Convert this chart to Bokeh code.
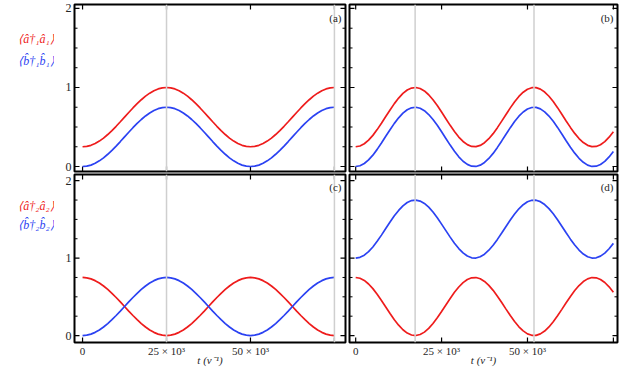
import math
from bokeh.plotting import figure
from bokeh.models import Range1d, FixedTicker, Label, Span
from bokeh.layouts import column, row
from bokeh.embed import file_html
from bokeh.resources import INLINE

# ---------------- data ----------------
t = list(range(0, 76250, 1250))

a_red = [0.250, 0.255, 0.268, 0.291, 0.322, 0.360, 0.405, 0.455, 0.509, 0.566, 0.625,
         0.684, 0.741, 0.795, 0.845, 0.890, 0.928, 0.959, 0.982, 0.995, 1.000,
         0.995, 0.982, 0.959, 0.928, 0.890, 0.845, 0.795, 0.741, 0.684, 0.625,
         0.566, 0.509, 0.455, 0.405, 0.360, 0.322, 0.291, 0.268, 0.255, 0.250,
         0.255, 0.268, 0.291, 0.322, 0.360, 0.405, 0.455, 0.509, 0.566, 0.625,
         0.684, 0.741, 0.795, 0.845, 0.890, 0.928, 0.959, 0.982, 0.995, 1.000]
a_blue = [0.000, 0.005, 0.018, 0.041, 0.072, 0.110, 0.155, 0.205, 0.259, 0.316, 0.375,
          0.434, 0.491, 0.545, 0.595, 0.640, 0.678, 0.709, 0.732, 0.745, 0.750,
          0.745, 0.732, 0.709, 0.678, 0.640, 0.595, 0.545, 0.491, 0.434, 0.375,
          0.316, 0.259, 0.205, 0.155, 0.110, 0.072, 0.041, 0.018, 0.005, 0.000,
          0.005, 0.018, 0.041, 0.072, 0.110, 0.155, 0.205, 0.259, 0.316, 0.375,
          0.434, 0.491, 0.545, 0.595, 0.640, 0.678, 0.709, 0.732, 0.745, 0.750]

b_red = [0.250, 0.260, 0.288, 0.334, 0.394, 0.467, 0.547, 0.632, 0.716, 0.796,
         0.866, 0.925, 0.968, 0.993, 1.000, 0.987, 0.956, 0.908, 0.845, 0.771,
         0.689, 0.605, 0.521, 0.442, 0.373, 0.317, 0.277, 0.254, 0.251, 0.267,
         0.301, 0.352, 0.416, 0.492, 0.574, 0.659, 0.742, 0.819, 0.887, 0.940,
         0.978, 0.997, 0.998, 0.979, 0.942, 0.889, 0.822, 0.745, 0.662, 0.577,
         0.495, 0.419, 0.354, 0.303, 0.268, 0.251, 0.254, 0.276, 0.315, 0.371,
         0.440]
b_blue = [0.000, 0.010, 0.038, 0.084, 0.144, 0.217, 0.297, 0.382, 0.466, 0.546,
          0.616, 0.675, 0.718, 0.743, 0.750, 0.737, 0.706, 0.658, 0.595, 0.521,
          0.439, 0.355, 0.271, 0.192, 0.123, 0.067, 0.027, 0.004, 0.001, 0.017,
          0.051, 0.102, 0.166, 0.242, 0.324, 0.409, 0.492, 0.569, 0.637, 0.690,
          0.728, 0.747, 0.748, 0.729, 0.692, 0.639, 0.572, 0.495, 0.412, 0.327,
          0.245, 0.169, 0.104, 0.053, 0.018, 0.001, 0.004, 0.026, 0.065, 0.121,
          0.190]

c_red = [0.750, 0.745, 0.732, 0.709, 0.678, 0.640, 0.595, 0.545, 0.491, 0.434, 0.375,
         0.316, 0.259, 0.205, 0.155, 0.110, 0.072, 0.041, 0.018, 0.005, 0.000,
         0.005, 0.018, 0.041, 0.072, 0.110, 0.155, 0.205, 0.259, 0.316, 0.375,
         0.434, 0.491, 0.545, 0.595, 0.640, 0.678, 0.709, 0.732, 0.745, 0.750,
         0.745, 0.732, 0.709, 0.678, 0.640, 0.595, 0.545, 0.491, 0.434, 0.375,
         0.316, 0.259, 0.205, 0.155, 0.110, 0.072, 0.041, 0.018, 0.005, 0.000]
c_blue = [0.000, 0.005, 0.018, 0.041, 0.072, 0.110, 0.155, 0.205, 0.259, 0.316, 0.375,
          0.434, 0.491, 0.545, 0.595, 0.640, 0.678, 0.709, 0.732, 0.745, 0.750,
          0.745, 0.732, 0.709, 0.678, 0.640, 0.595, 0.545, 0.491, 0.434, 0.375,
          0.316, 0.259, 0.205, 0.155, 0.110, 0.072, 0.041, 0.018, 0.005, 0.000,
          0.005, 0.018, 0.041, 0.072, 0.110, 0.155, 0.205, 0.259, 0.316, 0.375,
          0.434, 0.491, 0.545, 0.595, 0.640, 0.678, 0.709, 0.732, 0.745, 0.750]

d_red = [0.750, 0.740, 0.712, 0.666, 0.606, 0.533, 0.453, 0.368, 0.284, 0.204,
         0.134, 0.075, 0.032, 0.007, 0.000, 0.013, 0.044, 0.092, 0.155, 0.229,
         0.311, 0.395, 0.479, 0.558, 0.627, 0.683, 0.723, 0.746, 0.749, 0.733,
         0.699, 0.648, 0.584, 0.508, 0.426, 0.341, 0.258, 0.181, 0.113, 0.060,
         0.022, 0.003, 0.002, 0.021, 0.058, 0.111, 0.178, 0.255, 0.338, 0.423,
         0.505, 0.581, 0.646, 0.697, 0.732, 0.749, 0.746, 0.724, 0.685, 0.629,
         0.560]
d_blue = [1.000, 1.010, 1.038, 1.084, 1.144, 1.217, 1.297, 1.382, 1.466, 1.546,
          1.616, 1.675, 1.718, 1.743, 1.750, 1.737, 1.706, 1.658, 1.595, 1.521,
          1.439, 1.355, 1.271, 1.192, 1.123, 1.067, 1.027, 1.004, 1.001, 1.017,
          1.051, 1.102, 1.166, 1.242, 1.324, 1.409, 1.492, 1.569, 1.637, 1.690,
          1.728, 1.747, 1.748, 1.729, 1.692, 1.639, 1.572, 1.495, 1.412, 1.327,
          1.245, 1.169, 1.104, 1.053, 1.018, 1.001, 1.004, 1.026, 1.065, 1.121,
          1.190]

markers_ac = [25000, 75000]
markers_bd = [17300, 51900]

x_ticks = [0, 25000, 50000, 75000]
x_tick_labels = {0: "0", 25000: "25 × 10³", 50000: "50 × 10³", 75000: ""}
x_labeled = [0, 25000, 50000]
y_ticks = [0, 1, 2]
y_minor = [0.25, 0.5, 0.75, 1.25, 1.5, 1.75]

panel_names = ["(a)", "(b)", "(c)", "(d)"]
legend_top = ["⟨â†₁â₁⟩", "⟨b̂†₁b̂₁⟩"]
legend_bottom = ["⟨â†₂â₂⟩", "⟨b̂†₂b̂₂⟩"]
x_label = "t (ν⁻¹)"

RED = "#ee1c1c"
BLUE = "#2b42f2"
FONT = "Liberation Serif"
TXT = "#262626"


def label_axis(ax, ticks, size, overrides=None):
    ax.ticker = FixedTicker(ticks=ticks, minor_ticks=[])
    ax.axis_line_color = None
    ax.major_tick_in = 0
    ax.major_tick_out = 0
    ax.minor_tick_in = 0
    ax.minor_tick_out = 0
    ax.major_label_text_font = FONT
    ax.major_label_text_color = TXT
    ax.major_label_text_font_size = size
    ax.major_label_standoff = 3
    if overrides:
        ax.major_label_overrides = overrides


def make_panel(width, height, xr, yr, borders, show_x, show_y):
    bl, br, bt, bb = borders
    p = figure(width=width, height=height, x_range=Range1d(*xr), y_range=Range1d(*yr),
               output_backend="svg", toolbar_location=None,
               x_axis_location="below" if show_x else None,
               y_axis_location="left" if show_y else None,
               min_border_left=bl, min_border_right=br,
               min_border_top=bt, min_border_bottom=bb)
    p.xgrid.visible = False
    p.ygrid.visible = False
    p.outline_line_color = "black"
    p.outline_line_width = 2
    p.background_fill_color = "white"
    p.border_fill_color = "white"
    if show_x:
        ax = p.xaxis[0]
        label_axis(ax, x_labeled, "11px", x_tick_labels)
        ax.major_label_standoff = 2
        ax.axis_label = x_label
        ax.axis_label_text_font = FONT
        ax.axis_label_text_font_style = "italic"
        ax.axis_label_text_font_size = "11px"
        ax.axis_label_text_color = TXT
        ax.axis_label_standoff = -6
    if show_y:
        label_axis(p.yaxis[0], y_ticks, "12px")
    # inward tick marks on all four edges (half of each dash is clipped by the frame)
    n = len(x_ticks)
    p.scatter(x_ticks + x_ticks, [yr[0]] * n + [yr[1]] * n, marker="dash",
              angle=math.pi / 2, size=10, line_color="black", line_width=1.2)
    m = len(y_ticks)
    p.scatter([xr[0]] * m + [xr[1]] * m, y_ticks + y_ticks, marker="dash",
              size=10, line_color="black", line_width=1.2)
    k = len(y_minor)
    p.scatter([xr[0]] * k + [xr[1]] * k, y_minor + y_minor, marker="dash",
              size=6, line_color="black", line_width=1)
    return p


def add_content(p, red, blue, markers, name, xr, yr):
    for mk in markers:
        p.add_layout(Span(location=mk, dimension="height", line_color="#cfcfcf", line_width=1.5))
    p.line(t, red, line_color=RED, line_width=1.7)
    p.line(t, blue, line_color=BLUE, line_width=1.7)
    p.add_layout(Label(x=xr[1], y=yr[1] - 0.165, x_offset=-4, text=name, text_font=FONT,
                       text_font_size="11px", text_color=TXT,
                       text_align="right", text_baseline="middle"))


def make_legend(width, height, bt, bb, labels, ys):
    fh = height - bt - bb
    p = figure(width=width, height=height, x_range=Range1d(0, width), y_range=Range1d(fh, 0),
               output_backend="svg", toolbar_location=None,
               x_axis_location=None, y_axis_location=None,
               min_border_left=0, min_border_right=0, min_border_top=bt, min_border_bottom=bb)
    p.xgrid.visible = False
    p.ygrid.visible = False
    p.outline_line_color = None
    p.background_fill_color = "white"
    p.border_fill_color = "white"
    for txt, col, yv in zip(labels, (RED, BLUE), ys):
        p.add_layout(Label(x=36, y=yv, text=txt, text_font=FONT, text_font_style="italic",
                           text_font_size="12px", text_color=col,
                           text_align="center", text_baseline="middle"))
    return p


XR_L = (-2400, 78300)
XR_R = (-1800, 76200)
YR_T = (-0.063, 2.05)
YR_B = (-0.09, 2.08)

TOP_H = 173
BOT_H = 195

leg_t = make_legend(54, TOP_H, 4, 2, legend_top, (34, 56))
leg_b = make_legend(54, BOT_H, 1, 0, legend_bottom, (36, 58))

pa = make_panel(293, TOP_H, XR_L, YR_T, (20, 2, 4, 2), False, True)
pb = make_panel(272, TOP_H, XR_R, YR_T, (2, 2, 4, 2), False, False)
pc = make_panel(293, BOT_H, XR_L, YR_B, (20, 2, 1, 0), True, True)
pd = make_panel(272, BOT_H, XR_R, YR_B, (2, 2, 1, 0), True, False)

add_content(pa, a_red, a_blue, markers_ac, panel_names[0], XR_L, YR_T)
add_content(pb, b_red, b_blue, markers_bd, panel_names[1], XR_R, YR_T)
add_content(pc, c_red, c_blue, markers_ac, panel_names[2], XR_L, YR_B)
add_content(pd, d_red, d_blue, markers_bd, panel_names[3], XR_R, YR_B)

layout = column(row(leg_t, pa, pb, spacing=0), row(leg_b, pc, pd, spacing=0), spacing=0)

open("out.html", "w").write(file_html(layout, INLINE))
